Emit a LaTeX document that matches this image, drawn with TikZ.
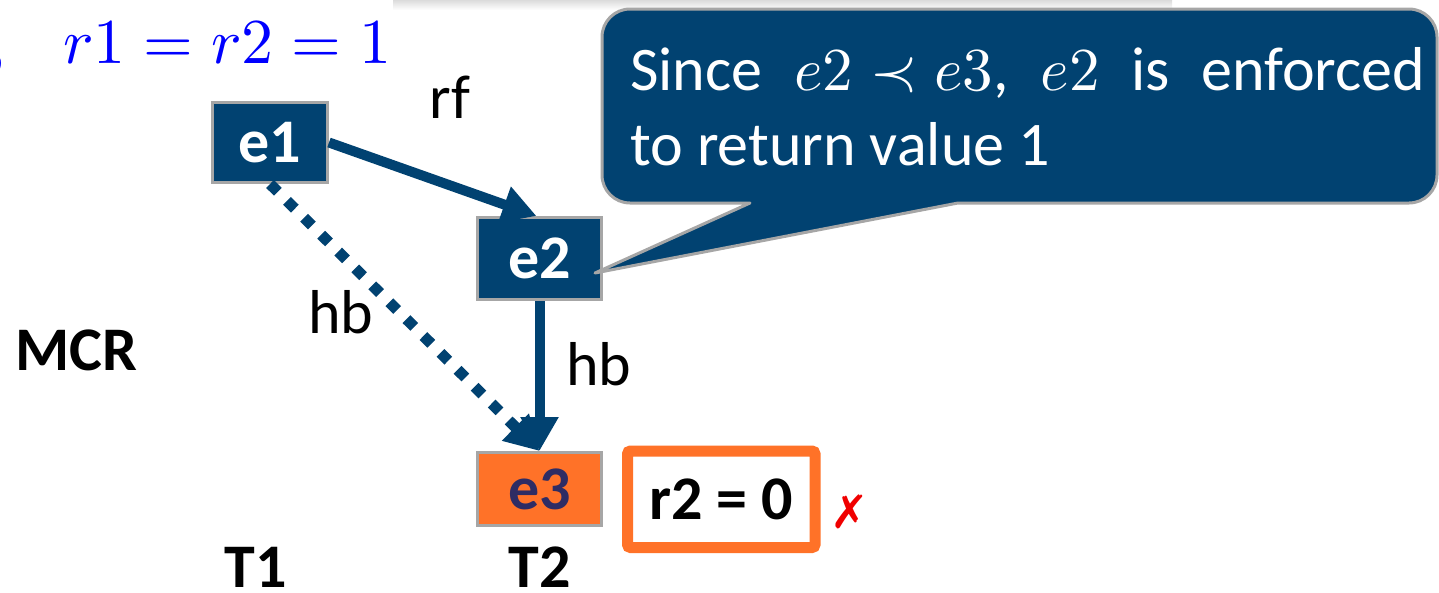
\documentclass[tikz,border=0pt]{standalone}
\usepackage{graphicx}
\usepackage{fontspec}
\setmainfont{Carlito}
\newfontfamily\symfont{DejaVu Sans}
\usetikzlibrary{arrows.meta}
\definecolor{navy}{RGB}{1,66,113}
\definecolor{boxgray}{RGB}{166,166,166}
\definecolor{hotorange}{RGB}{255,114,40}
\definecolor{deepink}{RGB}{46,44,100}
\definecolor{mathblue}{RGB}{0,0,255}
\definecolor{xred}{RGB}{240,0,0}
\newcommand{\bigtext}{\fontsize{62}{62}\selectfont}
% math set at 10pt and enlarged
\newcommand{\bigmath}[2]{\scalebox{#1}{\fontsize{10}{12}\selectfont$#2$}}

\begin{document}
\begin{tikzpicture}[x=1pt,y=-1pt,
  event/.style={draw=boxgray,line width=3pt,fill=navy,text=white,inner sep=0pt,font=\bigtext\bfseries},
  lbl/.style={font=\bigtext,anchor=base,inner sep=0pt},
  boldlbl/.style={font=\bigtext\bfseries,anchor=base,inner sep=0pt},
  edge/.style={draw=navy,line width=10pt,-{Triangle[length=34pt,width=36pt]}},
  dotedge/.style={edge,line width=11pt,dash pattern=on 11pt off 13pt},
]
\useasboundingbox (0,0) rectangle (1439,592);

% faint shadow strip along the top
\shade[top color=black!14,bottom color=white] (393,0) rectangle (1172,10);

% condition in the top left corner
\node[anchor=base east,text=mathblue,inner sep=0pt] (comma) at (6,63) {\bigmath{6.4}{,}};
\node[anchor=base west,text=mathblue,inner sep=0pt] (cond) at (63,63) {\bigmath{6.4}{r1 = r2 = 1}};

% events
\node[event,minimum width=115pt,minimum height=80pt] (e1) at (270,142.5) {e1};
\node[event,minimum width=124pt,minimum height=82pt] (e2) at (539.5,258.5) {e2};
\node[event,fill=hotorange,text=deepink,minimum width=124pt,minimum height=73pt] (e3) at (539.5,489) {e3};

% relations
\draw[dotedge] (e1.south) -- (e3.north);
\draw[edge] (e1.east) -- ([xshift=-3pt]e2.north);
\draw[edge] (e2.south) -- (e3.north);

\node[lbl] (rf) at (450,118) {rf};
\node[lbl] (hb1) at (341,333) {hb};
\node[lbl] (hb2) at (599,385) {hb};

% side labels
\node[boldlbl] (mcr) at (76,370) {MCR};
\node[boldlbl] (t1) at (256,587) {T1};
\node[boldlbl] (t2) at (540,587) {T2};

% outcome
\node[draw=hotorange,line width=11pt,rounded corners=3pt,fill=white,
      minimum width=187.5pt,minimum height=96.5pt,font=\bigtext\bfseries] (res) at (721.25,499.25) {r2 = 0};
\node[text=xred,font=\symfont\fontsize{46}{46}\selectfont,inner sep=0pt] (cross) at (850,512) {✗};

% callout attached to e2
\filldraw[fill=navy,draw=boxgray,line width=3pt,line join=round]
  (958,203) -- (1409,203) arc[start angle=90,end angle=0,radius=28]
  -- (1437,37) arc[start angle=0,end angle=-90,radius=28]
  -- (630,9) arc[start angle=-90,end angle=-180,radius=28]
  -- (602,175) arc[start angle=180,end angle=90,radius=28]
  -- (750,203) -- (595,273) -- cycle;
\node[anchor=base west,inner sep=0pt,text=white,font=\bigtext] (note1) at (630,90)
  {\hbox to 795pt{Since\hfill\bigmath{6.1}{e2\prec e3},\hfill\bigmath{6.1}{e2}\hfill is\hfill enforced}};
\node[anchor=base west,inner sep=0pt,text=white,font=\bigtext] (note2) at (630,165) {to return value 1};
\end{tikzpicture}
\end{document}
